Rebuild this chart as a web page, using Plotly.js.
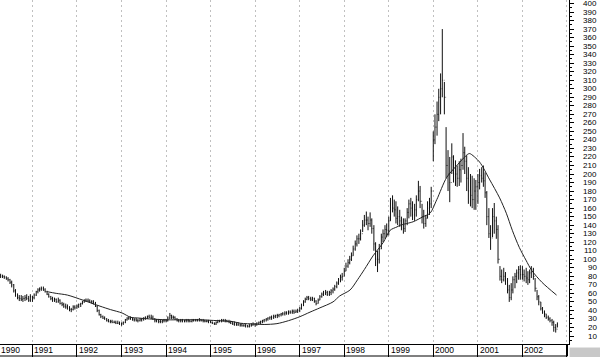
<!DOCTYPE html>
<html>
<head>
<meta charset="utf-8">
<script src="https://cdn.plot.ly/plotly-3.0.1.min.js"></script>
<style>
html,body{margin:0;padding:0;background:#fff;}
#chart{width:600px;height:357px;}
</style>
</head>
<body>
<div id="chart"></div>
<script>
// Semi-monthly bars (1st and 15th), starting 1990-04-15, ending 2002-10-15
const startYear = 1990, startMonth = 4; // first bar = 15th of this month

const highs = [
  // 1990 (Apr15..Dec15)
  83,82,81,80,79,77,75,71,65,60,58,58,57,58,59,57,59,
  // 1991
  57,60,63,66,67,68,68,66,63,60,57,56,55,54,55,53,50,49,48,47,45,43,46,46,
  // 1992
  47,48,49,51,53,54,54,53,52,52,50,46,41,36,34,33,31,30,29,29,28,28,28,27,
  // 1993
  26,27,30,32,33,33,32,31,31,30,31,31,32,33,34,35,35,34,31,30,30,29,29,30,
  // 1994
  30,33,37,35,34,33,31,30,30,30,29,30,30,29,30,30,30,30,31,30,30,29,29,29,
  // 1995
  28,27,26,27,29,29,30,30,30,29,29,28,27,27,26,26,25,25,24,24,23,24,25,26,
  // 1996
  25,26,27,28,29,30,31,32,33,34,35,35,36,36,37,38,39,39,40,40,41,41,41,42,
  // 1997
  44,48,52,55,57,57,56,56,55,52,54,58,61,63,64,63,63,65,67,70,74,78,82,84,
  // 1998
  90,96,100,104,108,116,122,128,130,135,146,152,156,150,155,148,140,120,110,118,130,135,140,142,
  // 1999
  150,172,175,170,168,162,158,150,148,148,160,170,172,168,165,175,192,186,165,158,152,168,172,185,
  // 2000
  250,270,285,300,318,370,308,255,228,220,236,222,216,210,215,218,248,232,222,208,200,198,195,193,
  // 2001
  200,206,208,210,202,180,160,140,160,166,150,140,92,88,90,85,78,70,72,80,84,88,92,93,
  // 2002 (Jan1..Oct15)
  92,88,90,86,88,92,90,78,64,58,50,44,40,36,34,32,30,28,24,26
];
const lows = [
  78,78,77,76,74,71,67,61,56,53,51,51,50,51,52,50,50,
  50,53,57,60,62,63,63,61,58,55,52,50,50,49,49,47,45,43,42,41,39,38,40,41,
  42,43,44,47,49,50,50,49,48,47,44,38,34,31,30,29,27,26,25,25,25,24,24,23,
  22,23,25,28,29,29,28,27,27,26,27,27,28,29,30,31,30,29,26,26,25,25,25,26,
  26,27,30,30,30,29,27,26,26,26,26,26,26,26,26,27,27,27,27,27,26,26,26,25,
  25,24,23,23,25,26,26,27,26,26,25,24,23,22,22,22,21,21,21,20,20,20,21,22,
  21,22,23,24,25,26,27,28,29,29,30,31,31,32,33,34,34,35,35,36,36,36,37,37,
  38,41,45,49,52,52,51,51,49,46,48,52,55,57,58,57,57,58,60,63,66,70,73,75,
  80,86,90,94,98,104,110,115,118,122,132,138,140,134,138,130,110,92,85,95,112,120,124,126,
  128,145,155,150,142,140,138,134,130,132,140,148,150,146,145,150,168,160,142,136,138,148,152,160,
  215,235,245,262,270,290,270,195,180,167,200,190,186,185,186,190,205,200,180,165,162,160,158,158,
  165,182,190,185,172,140,125,111,126,130,124,95,75,72,74,70,60,50,52,60,66,72,76,76,
  76,74,72,70,72,78,76,62,52,46,40,36,32,30,28,26,22,15,14,20
];
const closes = [
  80,80,79,77,76,73,70,63,58,55,54,53,54,55,54,52,56,
  55,58,62,64,65,66,64,62,59,56,54,52,53,50,52,48,47,45,44,42,41,41,44,43,
  45,47,48,50,52,52,51,50,50,49,45,40,35,33,31,30,28,27,27,26,26,25,25,24,
  25,26,29,31,31,30,29,29,28,28,29,30,31,32,33,32,31,30,28,28,27,27,28,28,
  28,31,34,32,32,30,28,28,28,28,28,28,28,27,28,28,29,28,29,28,28,27,27,27,
  26,25,24,26,28,28,28,28,28,27,26,25,24,24,23,23,23,22,22,22,21,22,23,24,
  24,25,26,27,28,29,30,31,32,32,33,34,34,35,36,36,37,37,38,38,39,38,39,40,
  42,46,50,53,55,54,53,54,51,48,52,56,59,60,61,59,61,63,65,68,72,76,79,80,
  86,92,96,100,104,112,118,124,124,130,140,146,146,142,146,136,118,100,100,112,126,130,135,134,
  145,165,160,158,148,150,145,140,136,145,155,165,160,152,158,170,180,168,150,142,148,160,165,180,
  240,255,270,290,300,310,290,210,200,190,220,200,200,195,205,210,225,215,195,180,175,170,180,185,
  190,198,195,192,178,150,130,125,150,145,135,100,80,76,80,74,64,55,64,76,80,84,88,82,
  82,80,78,76,84,88,80,66,56,50,42,38,36,32,30,28,26,20,18,24
];
const firstOpen = 81;

// Moving average line
const maDates = [
  '1991-05-01','1991-07-15','1991-10-15','1992-02-20','1992-07-08','1992-10-01',
  '1993-01-05','1993-03-15','1993-05-25','1993-08-20','1994-01-08','1994-05-20',
  '1994-10-05','1995-02-25','1995-07-05','1995-09-01','1996-01-01','1996-03-15',
  '1996-06-28','1996-10-01','1997-01-01','1997-03-26','1997-06-15','1997-10-01',
  '1997-11-25','1998-02-18','1998-04-20','1998-06-15','1998-08-25','1998-11-18',
  '1999-01-12','1999-03-10','1999-04-05','1999-07-20','1999-10-10','1999-12-05',
  '2000-01-30','2000-04-20','2000-07-12','2000-10-08','2000-10-26','2001-01-15',
  '2001-04-05','2001-06-28','2001-08-22','2001-10-10','2001-12-06','2002-01-30',
  '2002-03-18','2002-06-10','2002-10-08'
];
const maValues = [
  62,60,58,52,45,41,
  37,32,31,30,29,29,
  29,28,26.8,25,24,23.5,
  24.5,28,32.6,38,43,50,
  57,64,76,88,104,120,
  134,138,140,144,150,154,
  170,196,210,223,224,214,
  194,172,154,134,114,99,
  87,73,58
];

const yearLabels = ['1990','1991','1992','1993','1994','1995','1996','1997','1998','1999','2000','2001','2002'];
const yTickVals = [10,20,30,40,50,60,70,80,90,100,110,120,130,140,150,160,170,180,190,200,
  210,220,230,240,250,260,270,280,290,300,310,320,330,340,350,360,370,380,390,400];

// build dates
function pad(n){return (n<10?'0':'')+n;}
const dates = highs.map((_, i) => {
  const k = i + 1;
  const off = Math.floor(k / 2);
  const day = (k % 2) ? 15 : 1;
  const mIdx = (startMonth - 1) + off;
  const y = startYear + Math.floor(mIdx / 12);
  const m = (mIdx % 12) + 1;
  return y + '-' + pad(m) + '-' + pad(day);
});
const opens = closes.map((c, i) => i === 0 ? firstOpen : closes[i - 1]);

const FONT = 'Liberation Sans, Arial, sans-serif';
const FS = 8;
const stripH = 12, plotH = 344;

const traces = [
  {
    type: 'ohlc', x: dates, open: opens, high: highs, low: lows, close: closes,
    increasing: {line: {color: '#111', width: 1}},
    decreasing: {line: {color: '#111', width: 1}},
    tickwidth: 0.3, hoverinfo: 'skip', showlegend: false
  },
  {
    type: 'scatter', mode: 'lines', x: maDates, y: maValues,
    line: {color: '#222', width: 1, shape: 'spline', smoothing: 0.8},
    hoverinfo: 'skip', showlegend: false
  }
];

const annotations = [];
yearLabels.forEach((t, i) => {
  const base = {yref: 'paper', y: -(stripH / 2) / plotH, yanchor: 'middle',
    text: t, showarrow: false, borderpad: 0, borderwidth: 0,
    font: {family: FONT, size: FS + 0.5, color: '#000'}};
  if (i === 0) {
    annotations.push(Object.assign({xref: 'paper', x: 0, xanchor: 'left', xshift: 1}, base));
  } else {
    annotations.push(Object.assign({xref: 'x', x: t + '-01-01', xanchor: 'left', xshift: 2}, base));
  }
});
yTickVals.forEach(v => {
  annotations.push({xref: 'paper', x: 1, xanchor: 'right', xshift: 28,
    yref: 'y', y: v, yanchor: 'middle', borderpad: 0, borderwidth: 0,
    text: String(v), showarrow: false, font: {family: FONT, size: FS, color: '#000'}});
});

const layout = {
  width: 600, height: 357,
  margin: {l: 0, r: 31, t: 0, b: 13, pad: 0},
  paper_bgcolor: '#fff', plot_bgcolor: '#fff',
  showlegend: false, hovermode: false,
  xaxis: {
    type: 'date', range: ['1990-04-10', '2003-01-18'],
    rangeslider: {visible: false},
    showgrid: true, gridcolor: '#c0c0c0', griddash: '2px,3px', gridwidth: 1,
    tick0: '1991-01-01', dtick: 'M12',
    ticks: 'outside', ticklen: stripH, tickcolor: '#000', tickwidth: 1,
    showticklabels: false,
    showline: true, linecolor: '#000', linewidth: 1,
    zeroline: false, fixedrange: true
  },
  yaxis: {
    side: 'right', range: [0.62, 404.1],
    showgrid: false, zeroline: false,
    showline: true, linecolor: '#000', linewidth: 1,
    ticks: 'outside', ticklen: 4, tickcolor: '#000', tick0: 0, dtick: 10,
    minor: {ticks: 'outside', ticklen: 2, tickcolor: '#000', dtick: 5, showgrid: false},
    showticklabels: false, fixedrange: true
  },
  shapes: [
    {type: 'line', xref: 'paper', yref: 'paper', x0: 0, x1: 567.5 / 569,
      y0: -stripH / plotH, y1: -stripH / plotH, line: {color: '#000', width: 1}},
    {type: 'line', xref: 'paper', yref: 'paper', x0: 567.5 / 569, x1: 567.5 / 569,
      y0: 0, y1: -stripH / plotH, line: {color: '#000', width: 1}},
    {type: 'rect', xref: 'paper', yref: 'paper', x0: 1.001, x1: 600 / 569,
      y0: -3.5 / plotH, y1: -13 / plotH, fillcolor: '#c8c8c8', line: {width: 0}, layer: 'above'}
  ],
  annotations: annotations
};

Plotly.newPlot('chart', traces, layout, {staticPlot: true, displayModeBar: false});
</script>
</body>
</html>
